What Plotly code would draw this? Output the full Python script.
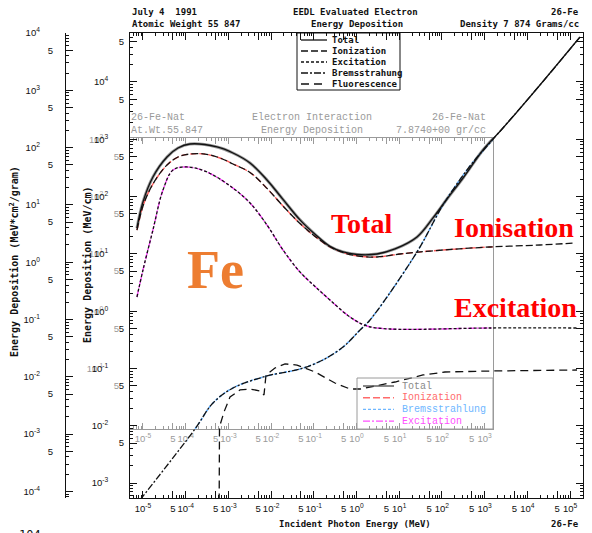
import plotly.graph_objects as go

# ---------------- data: Fe, electron energy deposition (MeV/cm) vs incident energy (MeV)
total_e = [7.23e-6, 1.0e-5, 1.71e-5, 3.65e-5, 6.6e-5, 1.26e-4, 5.41e-4, 1.28e-3, 3.21e-3,
           8.02e-3, 1.90e-2, 4.75e-2, 0.107, 0.239, 0.483, 1.03, 3.02, 7.98, 26.1, 61.9,
           131.6, 312, 918, 2700, 19800, 1.71e5]
total_v = [28.3, 80.5, 220, 491, 705, 828, 735, 577, 386, 195, 89.3, 39.3, 22.0, 13.5, 10.8,
           9.77, 9.96, 12.2, 19.7, 42.4, 90.8, 211, 650, 1574, 8870, 60900]

ion_e = [7.23e-6, 1.0e-5, 1.71e-5, 3.65e-5, 6.6e-5, 1.26e-4, 2.83e-4, 6.35e-4, 1.28e-3,
         3.21e-3, 8.02e-3, 1.90e-2, 4.75e-2, 0.107, 0.239, 0.483, 1.03, 3.02, 10.4, 106,
         1336, 19800, 1.31e5]
ion_v = [26.1, 68.5, 166, 356, 491, 553, 553, 472, 371, 264, 139, 68.5, 33.9, 20.2, 13.3,
         10.6, 9.24, 8.83, 9.96, 11.7, 13.2, 14.3, 15.5]

exc_e = [7.23e-6, 1.0e-5, 1.71e-5, 2.94e-5, 5.05e-5, 1.07e-4, 3.15e-4, 1.28e-3, 3.21e-3,
         8.02e-3, 1.90e-2, 4.75e-2, 0.107, 0.239, 0.705, 1.76, 6.10, 1336, 1.46e5]
exc_v = [1.77, 5.24, 26.1, 130, 291, 329, 269, 141, 77.3, 31.9, 11.7, 4.83, 2.70, 1.57,
         0.792, 0.552, 0.489, 0.509, 0.509]

brem_e = [8.51e-6, 1.65e-4, 4.36e-4, 1.28e-3, 8.02e-3, 4.75e-2, 0.164, 0.483, 1.21, 2.07,
          26.1, 106, 455, 1336, 6745, 34000, 1.71e5]
brem_v = [5.07e-4, 8.79e-3, 0.0250, 0.0457, 0.0740, 0.0980, 0.141, 0.237, 0.470, 0.702,
          10.8, 71.3, 342, 870, 3470, 14280, 60880]

fluo_e = [6.03e-4, 6.19e-4, 7.89e-4, 1.09e-3, 1.87e-3, 3.21e-3, 5.50e-3, 6.82e-3, 7.60e-3,
          1.23e-2, 2.12e-2, 4.05e-2, 0.107, 0.313, 0.705, 1.21, 2.71, 7.98, 36.1, 118,
          1336, 1.46e5]
fluo_v = [1.0e-4, 9.53e-3, 0.0174, 0.0318, 0.0422, 0.0439, 0.0405, 0.0345, 0.0771, 0.102,
          0.120, 0.115, 0.0869, 0.0558, 0.0439, 0.0439, 0.0495, 0.0581, 0.0771, 0.0869,
          0.0904, 0.0942]

# tick exponents
x_main_dec = list(range(-5, 6))
x_gray_dec = list(range(-5, 4))
y_main_dec = list(range(-3, 5))
y_gray_dec = list(range(-1, 4))
y_left_dec = list(range(-4, 5))

# ---------------- geometry helpers (pixel -> paper)
ML, MR, MT, MB = 60, 9, 33, 35
W, H = 592, 533
PW, PH = W - ML - MR, H - MT - MB


def px(x):
    return (x - ML) / PW


def py(y):
    return (H - MB - y) / PH


NB = "\u00a0"


def sup(n):
    return "10<sup>%d</sup>" % n


def major(exps, pad, fives_lo, fives_hi):
    vals, text = [], []
    for n in exps:
        vals.append(10.0 ** n)
        text.append(sup(n) + NB * pad)
    for n in range(fives_lo, fives_hi + 1):
        vals.append(5 * 10.0 ** n)
        text.append("5")
    return vals, text


def minors(lo, hi):
    return [m * 10.0 ** n for n in range(lo, hi + 1) for m in (2, 3, 4, 6, 7, 8, 9)]


BLACK = "#111111"
GRAY = "#9a9a9a"
tick_font = dict(family="Liberation Sans, Arial", size=9.5, color=BLACK)
gray_font = dict(family="Liberation Sans, Arial", size=9.5, color=GRAY)
mono = "DejaVu Sans Mono"
cour = "Liberation Mono, Courier New"

fig = go.Figure()

# ---- overlay plot (coloured curves), clipped to its own frame
fig.add_trace(go.Scatter(x=total_e, y=total_v, xaxis="x", yaxis="y", mode="lines",
                         line=dict(color="rgba(135,135,135,0.85)", width=3, shape="spline"),
                         hoverinfo="skip", showlegend=False))
fig.add_trace(go.Scatter(x=ion_e, y=ion_v, xaxis="x", yaxis="y", mode="lines",
                         line=dict(color="#ff5c5c", width=1.4, dash="6px,3px", shape="spline"),
                         hoverinfo="skip", showlegend=False))
fig.add_trace(go.Scatter(x=brem_e, y=brem_v, xaxis="x", yaxis="y", mode="lines",
                         line=dict(color="#62b0ff", width=1.6, dash="3px,2px", shape="spline"),
                         hoverinfo="skip", showlegend=False))
fig.add_trace(go.Scatter(x=exc_e, y=exc_v, xaxis="x", yaxis="y", mode="lines",
                         line=dict(color="#ff44ff", width=1.4, dash="7px,2px,2px,2px", shape="spline"),
                         hoverinfo="skip", showlegend=False))

# ---- EEDL plot (black curves)
fig.add_trace(go.Scatter(x=total_e, y=total_v, xaxis="x2", yaxis="y2", mode="lines",
                         line=dict(color=BLACK, width=1.3, shape="spline"),
                         hoverinfo="skip", showlegend=False))
fig.add_trace(go.Scatter(x=ion_e, y=ion_v, xaxis="x2", yaxis="y2", mode="lines",
                         line=dict(color=BLACK, width=1.3, dash="7px,3px", shape="spline"),
                         hoverinfo="skip", showlegend=False))
fig.add_trace(go.Scatter(x=exc_e, y=exc_v, xaxis="x2", yaxis="y2", mode="lines",
                         line=dict(color=BLACK, width=1.3, dash="3px,2px", shape="spline"),
                         hoverinfo="skip", showlegend=False))
fig.add_trace(go.Scatter(x=brem_e, y=brem_v, xaxis="x2", yaxis="y2", mode="lines",
                         line=dict(color=BLACK, width=1.3, dash="7px,2px,2px,2px", shape="spline"),
                         hoverinfo="skip", showlegend=False))
fig.add_trace(go.Scatter(x=fluo_e, y=fluo_v, xaxis="x2", yaxis="y2", mode="lines",
                         line=dict(color=BLACK, width=1.3, dash="8px,5px"),
                         hoverinfo="skip", showlegend=False))
# empty holder so the per-gram axis gets drawn
fig.add_trace(go.Scatter(x=[1.0], y=[1.0], xaxis="x2", yaxis="y3", mode="markers",
                         marker=dict(opacity=0), hoverinfo="skip", showlegend=False))

# ---- axes
gx_vals, gx_text = major(x_gray_dec, 0, -5, 2)
gy_vals, gy_text = major(y_gray_dec, 6, -2, 2)
mx_vals, mx_text = major(x_main_dec, 0, -5, 4)
my_vals, my_text = major(y_main_dec, 6, -3, 4)
ly_vals, ly_text = major(y_left_dec, 5, -5, 3)

common = dict(type="log", showgrid=False, zeroline=False, showline=True, linewidth=1)

fig.update_layout(
    width=W, height=H,
    margin=dict(l=ML, r=MR, t=MT, b=MB),
    paper_bgcolor="white", plot_bgcolor="rgba(0,0,0,0)",
    showlegend=False,
    xaxis=dict(common, domain=[px(130), px(493)], range=[-5.304, 3.197], anchor="y",
               linecolor=GRAY, mirror="ticks", ticks="inside", ticklen=6, tickcolor=GRAY,
               tickvals=gx_vals, ticktext=gx_text, tickfont=gray_font, ticklabelstandoff=1,
               minor=dict(tickvals=minors(-6, 3), ticks="inside", ticklen=3, tickcolor=GRAY)),
    yaxis=dict(common, domain=[py(429), py(138)], range=[-2.056, 3.023], anchor="x",
               linecolor=GRAY, mirror=True, ticks="",
               tickvals=gy_vals, ticktext=gy_text, tickfont=gray_font, ticklabelstandoff=8),
    xaxis2=dict(common, domain=[px(130), 1], range=[-5.304, 5.304], anchor="y2",
                linecolor=BLACK, mirror="ticks", ticks="inside", ticklen=7, tickcolor=BLACK,
                tickvals=mx_vals, ticktext=mx_text, tickfont=tick_font, ticklabelstandoff=2,
                minor=dict(tickvals=minors(-6, 5), ticks="inside", ticklen=3, tickcolor=BLACK)),
    yaxis2=dict(common, domain=[0, 1], range=[-3.26, 4.855], anchor="x2",
                linecolor=BLACK, mirror="ticks", ticks="inside", ticklen=7, tickcolor=BLACK,
                tickvals=my_vals, ticktext=my_text, tickfont=tick_font, ticklabelstandoff=3,
                minor=dict(tickvals=minors(-4, 4), ticks="inside", ticklen=3, tickcolor=BLACK)),
    yaxis3=dict(common, overlaying="y2", anchor="free", position=px(65), side="left",
                range=[-4.115, 4.0005],
                linecolor=BLACK, ticks="inside", ticklen=7, tickcolor=BLACK,
                tickvals=ly_vals, ticktext=ly_text, tickfont=tick_font, ticklabelstandoff=10,
                minor=dict(tickvals=minors(-5, 3), ticks="inside", ticklen=3, tickcolor=BLACK)),
)

shapes = []
annotations = []


def text(x, y, s, size, color=BLACK, family=mono, anchor="left", angle=0, weight="normal"):
    annotations.append(dict(x=px(x), y=py(y), xref="paper", yref="paper", text=s,
                            showarrow=False, xanchor=anchor, yanchor="middle",
                            textangle=angle,
                            font=dict(family=family, size=size, color=color, weight=weight)))


# header of the EEDL plot
text(130, 12, "July 4  1991", 9, weight="bold")
text(130, 24, "Atomic Weight 55 847", 9, weight="bold")
text(355, 12, "EEDL Evaluated Electron", 9, anchor="center", weight="bold")
text(357, 24, "Energy Deposition", 9, anchor="center", weight="bold")
text(581, 12, "26-Fe", 9, anchor="right", weight="bold")
text(581, 24, "Density 7 874 Grams/cc", 9, anchor="right", weight="bold")

# header of the overlay plot
text(129, 117, "26-Fe-Nat", 10, GRAY, cour)
text(129, 130, "At.Wt.55.847", 10, GRAY, cour)
text(312, 117, "Electron Interaction", 10, GRAY, cour, anchor="center")
text(312, 130, "Energy Deposition", 10, GRAY, cour, anchor="center")
text(488, 117, "26-Fe-Nat", 10, GRAY, cour, anchor="right")
text(488, 130, "7.8740+00 gr/cc", 10, GRAY, cour, anchor="right")

# axis titles
text(14, 262, "Energy Deposition (MeV*cm<sup>2</sup>/gram)", 10, angle=-90, anchor="center",
     weight="bold")
text(87, 265, "Energy Deposition (MeV/cm)", 10, angle=-90, anchor="center", weight="bold")
text(355, 524, "Incident Photon Energy (MeV)", 9, anchor="center", weight="bold")
text(581, 524, "26-Fe", 9, anchor="right", weight="bold")
# page number cut by the lower edge
text(30, 535, "104", 12, anchor="center")

# labels on the curves
serif = "Liberation Serif, Times New Roman"
text(215, 270, "Fe", 54, "#ed7d31", serif, anchor="center", weight="bold")
text(361, 223, "Total", 28, "#ff0000", serif, anchor="center", weight="bold")
text(514, 227, "Ionisation", 28, "#ff0000", serif, anchor="center", weight="bold")
text(515, 308, "Excitation", 28, "#ff0000", serif, anchor="center", weight="bold")

# EEDL legend
shapes.append(dict(type="rect", xref="paper", yref="paper", x0=px(297), x1=px(400),
                   y0=py(90), y1=py(33), line=dict(color=BLACK, width=1)))
black_items = [("Total", "solid"), ("Ionization", "7px,3px"), ("Excitation", "3px,2px"),
               ("Bremsstrahung", "7px,2px,2px,2px"), ("Fluorescence", "8px,5px")]
for i, (name, dash) in enumerate(black_items):
    yy = 40 + i * 11
    shapes.append(dict(type="line", xref="paper", yref="paper", x0=px(301), x1=px(327),
                       y0=py(yy), y1=py(yy), line=dict(color=BLACK, width=1.3, dash=dash)))
    text(330, yy, name, 9, weight="bold")

# overlay legend
shapes.append(dict(type="rect", xref="paper", yref="paper", x0=px(357), x1=px(493),
                   y0=py(429), y1=py(378), line=dict(color=GRAY, width=1)))
gray_items = [("Total", "#555555", "#8a8a8a", "solid"),
              ("Ionization", "#ff6b6b", "#ff6b6b", "7px,3px"),
              ("Bremsstrahlung", "#6fb7ff", "#6fb7ff", "3px,2px"),
              ("Excitation", "#ff4fff", "#ff4fff", "7px,2px,2px,2px")]
for i, (name, lc, tc, dash) in enumerate(gray_items):
    yy = 386 + i * 11.7
    shapes.append(dict(type="line", xref="paper", yref="paper", x0=px(363), x1=px(394),
                       y0=py(yy), y1=py(yy), line=dict(color=lc, width=1.4, dash=dash)))
    text(400, yy, name, 10, tc, cour)

fig.update_layout(shapes=shapes, annotations=annotations)
fig.write_html("out.html")
